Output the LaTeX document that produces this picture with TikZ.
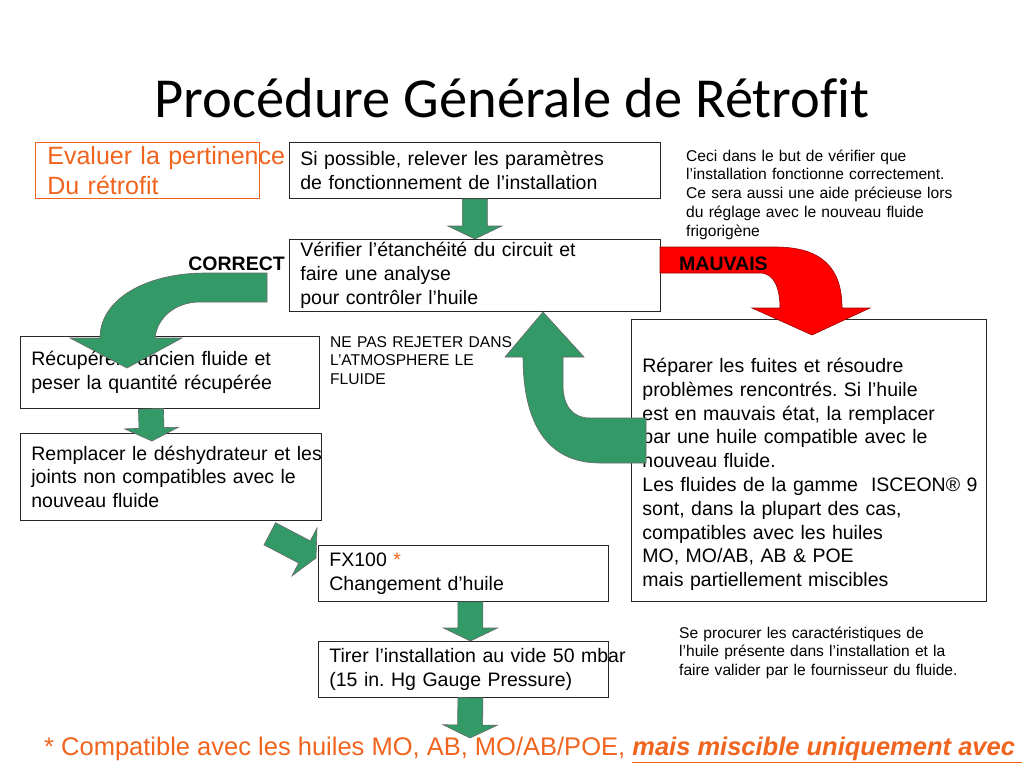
\documentclass[tikz,border=0pt]{standalone}
\usepackage{fontspec}
\setmainfont{Liberation Sans}
\newfontfamily\titlefont[Ligatures=NoCommon]{Carlito}
\usetikzlibrary{calc,      % For the block arrows between boxes
                positioning,
               }
\definecolor{flowgreen}{RGB}{51,153,102}
\definecolor{flowred}{RGB}{255,0,0}
\definecolor{evalorange}{RGB}{240,100,30}
\frenchspacing

\tikzstyle{box} = [rectangle, draw=black!85, line width=0.8pt, anchor=north west, align=left, inner xsep=11pt, inner ysep=0pt, font=\fontsize{19.5}{23.8}\selectfont]
\tikzstyle{note} = [anchor=base west, align=left, inner sep=0pt, text width=340pt, font=\fontsize{15.6}{18.8}\selectfont]
\tikzstyle{tag} = [inner sep=0pt, font=\fontsize{19.5}{23}\selectfont\bfseries]
\tikzstyle{flowfill} = [fill=flowgreen, draw=black!60, line width=0.6pt]
\tikzstyle{badfill} = [fill=flowred, draw=red!60!black, line width=0.6pt]

% straight block arrow from #1 to #2
\newcommand{\flowarrow}[2]{%
  \coordinate (fa) at ($(#2)!13pt!(#1)$);
  \draw [flowfill] ($(#1)!12.5pt!90:(#2)$) -- ($(fa)!12.5pt!90:(#2)$) -- ($(fa)!27pt!90:(#2)$) -- (#2)
    -- ($(fa)!27pt!-90:(#2)$) -- ($(fa)!12.5pt!-90:(#2)$) -- ($(#1)!12.5pt!-90:(#2)$) -- cycle;}

\begin{document}
\begin{tikzpicture}[x=1pt, y=-1pt]
  \useasboundingbox (0,0) rectangle (1024,768);
  \fill [white] (0,0) rectangle (1024,768);

  \node (title) [anchor=base, font=\titlefont\fontsize{56.5}{60}\selectfont] at (512,117) {Procédure Générale de Rétrofit};

  \node (eval) [box, draw=evalorange, text=evalorange, inner xsep=12pt, text width=200pt, minimum height=56pt, font=\fontsize{25}{29.5}\selectfont] at (35,142) {\mbox{Evaluer la pertinence}\\Du rétrofit};
  \node (box1) [box, text width=349pt, minimum height=56pt] at (289,142) {Si possible, relever les paramètres\\de fonctionnement de l’installation};
  \node (box2) [box, text width=349pt, minimum height=72pt] at (289,239) {Vérifier l’étanchéité du circuit et\\faire une analyse\\pour contrôler l’huile};
  \node (box3) [box, text width=333pt, text height=53pt, text depth=229pt] at (631,319) {Réparer les fuites et résoudre\\problèmes rencontrés. Si l’huile\\est en mauvais état, la remplacer\\par une huile compatible avec le\\nouveau fluide.\\\mbox{Les fluides de la gamme\ \ ISCEON® 9}\\sont, dans la plupart des cas,\\compatibles avec les huiles\\MO, MO/AB, AB \& POE\\mais partiellement miscibles};
  \node (box4) [box, text width=277pt, minimum height=72pt] at (20,336) {Récupérer l’ancien fluide et\\peser la quantité récupérée};
  \node (box5) [box, text width=279pt, minimum height=87pt] at (20,433) {\mbox{Remplacer le déshydrateur et les}\\joints non compatibles avec le\\nouveau fluide};
  \node (box6) [box, text width=268pt, minimum height=56pt] at (318,545) {FX100 \textcolor{evalorange}{*}\\Changement d’huile};
  \node (box7) [box, text width=268pt, minimum height=56pt] at (318,641) {\mbox{Tirer l’installation au vide 50 mbar}\\(15 in. Hg Gauge Pressure)};

  \node (note1) [note] at (686,161) {Ceci dans le but de vérifier que\\l’installation fonctionne correctement.\\Ce sera aussi une aide précieuse lors\\du réglage avec le nouveau fluide\\frigorigène};
  \node (note2) [note] at (330,347) {NE PAS REJETER DANS\\L’ATMOSPHERE LE\\FLUIDE};
  \node (note3) [note] at (679,638) {Se procurer les caractéristiques de\\l’huile présente dans l’installation et la\\faire valider par le fournisseur du fluide.};

  % straight arrows
  \coordinate (a4s) at ([xshift=-19pt]box4.south);
  \coordinate (a5n) at ([xshift=-19pt, yshift=-8pt]box5.north);
  \coordinate (d5) at ([xshift=-52pt, yshift=-13pt]box5.south east);
  \coordinate (d6) at ([xshift=-2pt, yshift=-13pt]box6.north west);
  \coordinate (a6s) at ([xshift=7pt]box6.south);
  \coordinate (a7n) at ([xshift=7pt]box7.north);
  \coordinate (a7s) at ([xshift=7pt]box7.south);
  \coordinate (tail) at (470,738);
  \flowarrow{box1.south}{box2.north}
  \flowarrow{a4s}{a5n}
  \flowarrow{d5}{d6}
  \flowarrow{a6s}{a7n}
  \flowarrow{a7s}{tail}

  % curved arrows
  \draw [flowfill] (267,273) -- (205,273) .. controls (148,273) and (100,298) .. (100,338) -- (70,338) -- (127,368) -- (182,338) -- (155,338)
    .. controls (157,318) and (175,302) .. (200,302) -- (267,302) -- cycle;
  \draw [badfill] (660,247) -- (775,247) .. controls (822,247) and (842,268) .. (842,308) -- (870,308) -- (812,335) -- (752,308) -- (780,308)
    .. controls (780,290) and (775,273) .. (760,273) -- (660,273) -- cycle;
  \draw [flowfill] (646,418) -- (590,418) .. controls (572,418) and (563,405) .. (563,385) -- (563,357) -- (584,357) -- (543,312) -- (505,357) -- (523,357)
    .. controls (523,420) and (545,463) .. (600,463) -- (646,463) -- cycle;

  \node (ok) [tag, anchor=base east] at (285,270) {CORRECT};
  \node (bad) [tag, anchor=base west] at (679,270) {MAUVAIS};

  \node (foot) [anchor=base west, inner sep=0pt, text=evalorange, font=\fontsize{25.5}{30}\selectfont] at (44,755) {* Compatible avec les huiles MO, AB, MO/AB/POE, \underline{\textbf{\textit{mais miscible uniquement avec\ }}}};
\end{tikzpicture}
\end{document}
